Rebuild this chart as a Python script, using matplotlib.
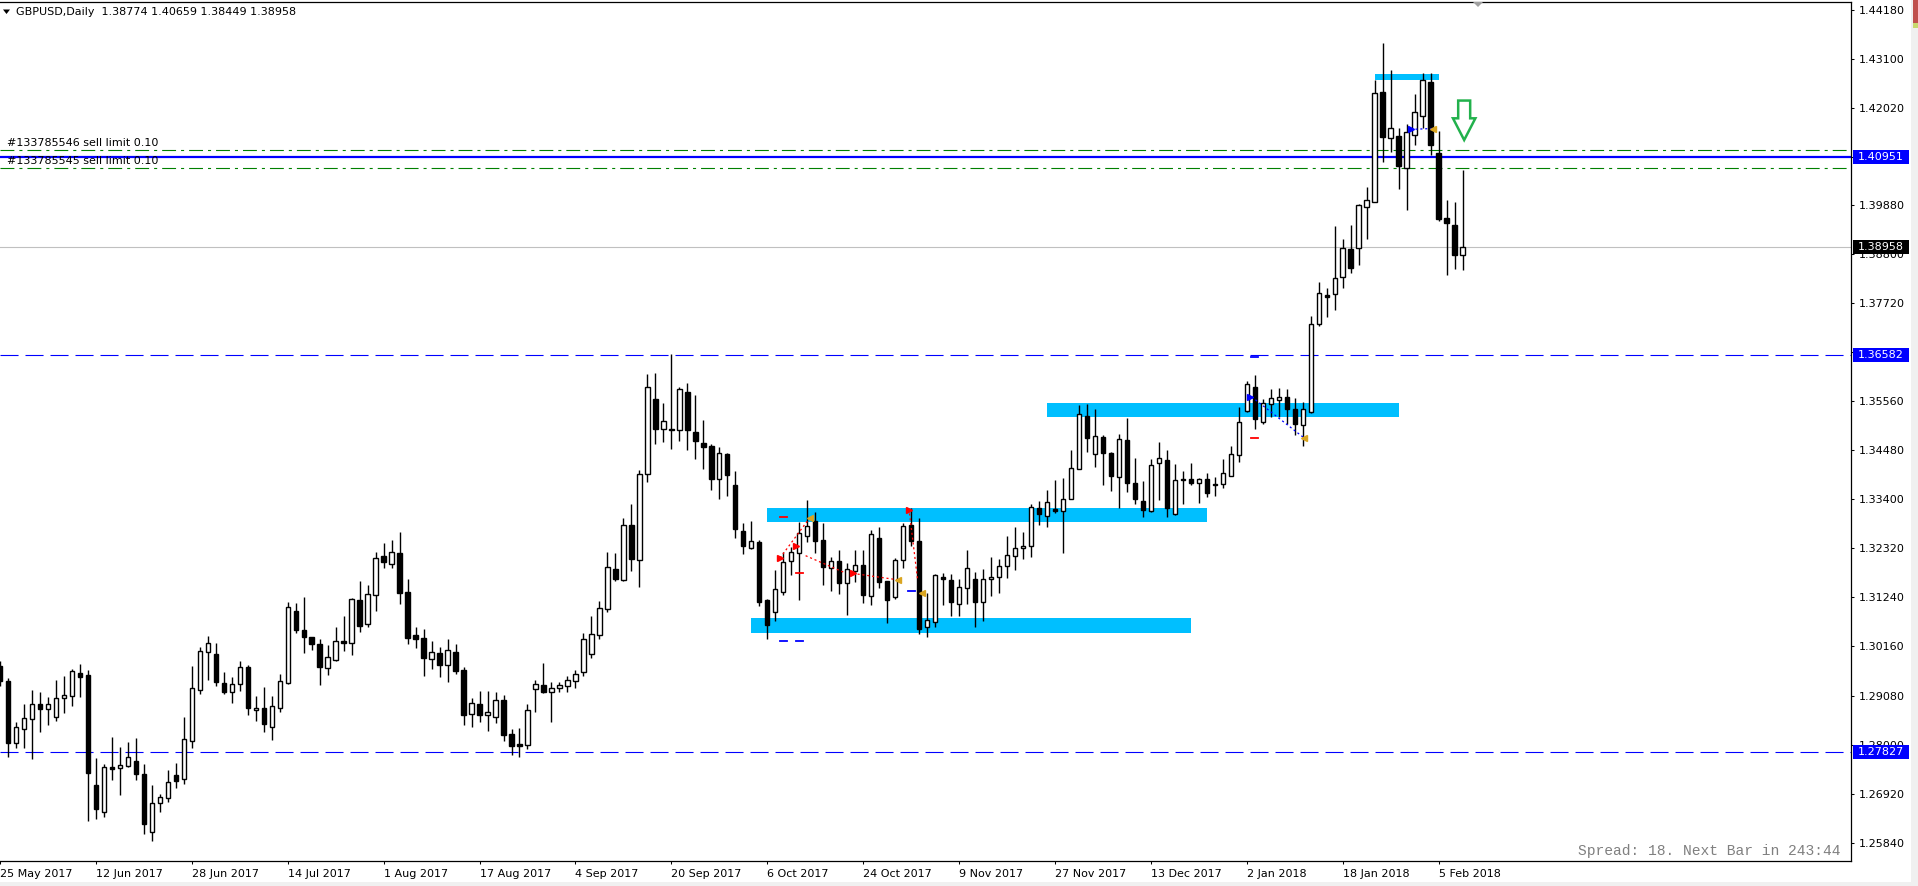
import matplotlib
matplotlib.use("Agg")
import matplotlib.pyplot as plt
from matplotlib.patches import Rectangle, Polygon
import matplotlib.transforms as mtransforms
import numpy as np
import pandas as pd

plt.rcParams['lines.scale_dashes'] = False
plt.rcParams['font.family'] = ['DejaVu Sans']

W, H, DPI = 1918, 886, 100

# ---------------- data ----------------
symbol = "GBPUSD,Daily"
last_ohlc = [1.38774, 1.40659, 1.38449, 1.38958]

opens = [1.2973, 1.29400, 1.28027, 1.28336, 1.28556, 1.28886, 1.28776, 1.28600, 1.29019, 1.29063,
         1.29577, 1.29533, 1.27110, 1.26522, 1.27506, 1.27477, 1.27536, 1.27638, 1.27345, 1.26067,
         1.26706, 1.26816, 1.27330, 1.27235, 1.28072, 1.29210, 1.30032, 1.29995, 1.29356, 1.29151,
         1.29327, 1.29709, 1.28754, 1.28798, 1.28395, 1.28813, 1.29349, 1.30942, 1.30516, 1.30362,
         1.30215, 1.29679, 1.29863, 1.30274, 1.30230, 1.31177, 1.30648, 1.31287, 1.32153, 1.31970,
         1.32219, 1.31360, 1.30414, 1.30348, 1.29892, 1.30017, 1.29745, 1.30039, 1.29643, 1.28681,
         1.28886, 1.28644, 1.28615, 1.28982, 1.28233, 1.28013, 1.27983, 1.29232, 1.29305, 1.29158,
         1.29239, 1.2930, 1.2940, 1.2960, 1.3000, 1.30406, 1.30979, 1.31860, 1.31617, 1.32829,
         1.32058, 1.33952, 1.35604, 1.34943, 1.34943, 1.34921, 1.35758, 1.34877, 1.34635, 1.34569,
         1.33842, 1.34393, 1.33710, 1.32697, 1.32337, 1.32462, 1.31184, 1.30912, 1.31368, 1.32036,
         1.32212, 1.32586, 1.32917, 1.32498, 1.31882, 1.32043, 1.31551, 1.31830, 1.31955, 1.31265,
         1.32542, 1.31595, 1.31258, 1.32058, 1.32829, 1.32476, 1.30582, 1.30707, 1.31691, 1.31625,
         1.31089, 1.31442, 1.31640, 1.31133, 1.31640, 1.31684, 1.31926, 1.32146, 1.32323, 1.32367,
         1.33204, 1.33028, 1.33182, 1.33138, 1.33402, 1.34063, 1.35230, 1.34393, 1.34768, 1.34415,
         1.33887, 1.34702, 1.33754, 1.33358, 1.33152, 1.34195, 1.34268, 1.33086, 1.33850, 1.33842,
         1.33754, 1.33842, 1.33740, 1.33747, 1.33909, 1.34371, 1.35340, 1.35869, 1.35098, 1.35494,
         1.35583, 1.35649, 1.35384, 1.35032, 1.35318, 1.37271, 1.37902, 1.37917, 1.38291, 1.38908,
         1.38930, 1.39840, 1.39958, 1.42373, 1.41353, 1.41404, 1.40707, 1.41434, 1.41852, 1.42594,
         1.41022, 1.39591, 1.39437, 1.38774]
highs = [1.2985, 1.29459, 1.28497, 1.28894, 1.29202, 1.29158, 1.29048, 1.29422, 1.29511, 1.29665,
         1.29775, 1.29643, 1.27704, 1.27572, 1.28167, 1.27947, 1.28057, 1.28145, 1.27572, 1.27110,
         1.26911, 1.27440, 1.27594, 1.28607, 1.29731, 1.30149, 1.30392, 1.30237, 1.29599, 1.29488,
         1.29841, 1.29753, 1.29070, 1.29268, 1.29070, 1.29555, 1.31140, 1.31118, 1.31250, 1.30370,
         1.30326, 1.30193, 1.30590, 1.30832, 1.31221, 1.31603, 1.31515, 1.32242, 1.32440, 1.32506,
         1.32682, 1.31647, 1.30590, 1.30546, 1.30281, 1.30149, 1.30326, 1.30215, 1.29709, 1.29026,
         1.29180, 1.29180, 1.29158, 1.29092, 1.28350, 1.28373, 1.28894, 1.29422, 1.29797, 1.29378,
         1.29378, 1.2950, 1.2965, 1.3045, 1.30832, 1.31162, 1.32241, 1.32219, 1.32990, 1.33299,
         1.34048, 1.36162, 1.36184, 1.35523, 1.36595, 1.35876, 1.35964, 1.35700, 1.35149, 1.34613,
         1.34547, 1.34422, 1.34026, 1.32880, 1.32924, 1.32506, 1.31213, 1.31845, 1.32234, 1.32352,
         1.32902, 1.33387, 1.33115, 1.32880, 1.32131, 1.32278, 1.31999, 1.32278, 1.32278, 1.32719,
         1.32785, 1.31610, 1.32102, 1.32880, 1.33211, 1.32990, 1.31331, 1.31749, 1.31771, 1.31749,
         1.31647, 1.32279, 1.31794, 1.31860, 1.32124, 1.32080, 1.32587, 1.32785, 1.32675, 1.33292,
         1.33358, 1.33600, 1.33820, 1.33865, 1.34481, 1.35472, 1.35494, 1.35384, 1.34812, 1.34437,
         1.34834, 1.35186, 1.34305, 1.33798, 1.34283, 1.34657, 1.34481, 1.34173, 1.34019, 1.34195,
         1.33865, 1.33975, 1.33887, 1.34283, 1.34569, 1.35428, 1.36008, 1.36141, 1.35605, 1.35825,
         1.35847, 1.35825, 1.35627, 1.35539, 1.37439, 1.38181, 1.38049, 1.39422, 1.39128, 1.39437,
         1.39906, 1.40274, 1.42638, 1.43445, 1.42851, 1.41573, 1.41669, 1.42322, 1.42785, 1.42785,
         1.41514, 1.39987, 1.39943, 1.40659]
lows = [1.2930, 1.27734, 1.27932, 1.27932, 1.27675, 1.28284, 1.28439, 1.28527, 1.28703, 1.28857,
        1.29055, 1.26324, 1.26368, 1.26412, 1.27227, 1.26897, 1.27499, 1.27227, 1.26023, 1.25884,
        1.26522, 1.26743, 1.27051, 1.27139, 1.27932, 1.29121, 1.29422, 1.29298, 1.29121, 1.28923,
        1.29187, 1.28659, 1.28527, 1.28284, 1.28108, 1.28725, 1.29340, 1.30450, 1.30024, 1.30091,
        1.29320, 1.29525, 1.29834, 1.30069, 1.29980, 1.30487, 1.30597, 1.30949, 1.31896, 1.31896,
        1.31103, 1.30223, 1.30120, 1.29518, 1.29672, 1.29496, 1.29378, 1.29562, 1.28431, 1.28387,
        1.28505, 1.28306, 1.28475, 1.28086, 1.27778, 1.27734, 1.27910, 1.28718, 1.29136, 1.28505,
        1.29150, 1.2915, 1.2925, 1.2950, 1.2990, 1.30320, 1.30927, 1.31595, 1.31595, 1.31830,
        1.31478, 1.33791, 1.34628, 1.34672, 1.34517, 1.34694, 1.34495, 1.34297, 1.34077, 1.33614,
        1.33416, 1.33482, 1.32557, 1.32205, 1.32315, 1.31059, 1.30318, 1.30729, 1.31302, 1.31742,
        1.31191, 1.32454, 1.32212, 1.31522, 1.31390, 1.31324, 1.30861, 1.31573, 1.31125, 1.31081,
        1.31456, 1.30685, 1.31213, 1.31896, 1.32381, 1.30428, 1.30376, 1.30582, 1.31081, 1.30839,
        1.30840, 1.31104, 1.30597, 1.30729, 1.31280, 1.31346, 1.31677, 1.31853, 1.32080, 1.32124,
        1.32829, 1.32785, 1.33094, 1.32213, 1.33400, 1.34060, 1.34437, 1.34122, 1.33710, 1.33578,
        1.33204, 1.33556, 1.33292, 1.33005, 1.33116, 1.33380, 1.33005, 1.33064, 1.33307, 1.33710,
        1.33314, 1.33461, 1.33468, 1.33659, 1.33905, 1.34232, 1.35318, 1.34944, 1.35054, 1.35208,
        1.35208, 1.35054, 1.34812, 1.34569, 1.35310, 1.37227, 1.37410, 1.37564, 1.38049, 1.38379,
        1.38570, 1.39143, 1.39950, 1.40824, 1.41059, 1.40244, 1.39774, 1.41213, 1.41573, 1.40978,
        1.39539, 1.38343, 1.38475, 1.38449]
closes = [1.2939, 1.28042, 1.28380, 1.28578, 1.28886, 1.28791, 1.28886, 1.29019, 1.29085, 1.29613,
          1.29496, 1.27381, 1.26588, 1.27506, 1.27470, 1.27543, 1.27726, 1.27359, 1.26258, 1.26713,
          1.26838, 1.27168, 1.27205, 1.28116, 1.29239, 1.30054, 1.30230, 1.29386, 1.29165, 1.29327,
          1.29701, 1.28813, 1.28806, 1.28461, 1.28842, 1.29393, 1.31023, 1.30516, 1.30377, 1.30215,
          1.29716, 1.29922, 1.30274, 1.30245, 1.31199, 1.30619, 1.31316, 1.32102, 1.32029, 1.32234,
          1.31346, 1.30340, 1.30318, 1.29914, 1.30039, 1.29753, 1.30083, 1.29628, 1.28659, 1.28916,
          1.28659, 1.28710, 1.28982, 1.28218, 1.27976, 1.27976, 1.28762, 1.29327, 1.29158, 1.29246,
          1.29312, 1.2942, 1.2955, 1.3032, 1.30428, 1.31001, 1.31904, 1.31639, 1.32829, 1.32080,
          1.33952, 1.35868, 1.34958, 1.35127, 1.34921, 1.35824, 1.34936, 1.34694, 1.34562, 1.33857,
          1.34415, 1.33945, 1.32755, 1.32381, 1.32476, 1.31147, 1.30641, 1.31419, 1.32014, 1.32234,
          1.32653, 1.32807, 1.32491, 1.31918, 1.32036, 1.31566, 1.31860, 1.31948, 1.31302, 1.32631,
          1.31588, 1.31191, 1.32073, 1.32821, 1.32491, 1.30553, 1.30736, 1.31727, 1.31654, 1.31147,
          1.31464, 1.31882, 1.31148, 1.31640, 1.31684, 1.31926, 1.32169, 1.32323, 1.32367, 1.33226,
          1.33072, 1.33336, 1.33145, 1.33402, 1.34085, 1.35274, 1.34746, 1.34790, 1.34415, 1.33923,
          1.34724, 1.33754, 1.33402, 1.33160, 1.34151, 1.34305, 1.33204, 1.33820, 1.33820, 1.33754,
          1.33842, 1.33534, 1.33725, 1.33989, 1.34408, 1.35098, 1.35935, 1.35164, 1.35517, 1.35627,
          1.35649, 1.35384, 1.35054, 1.35384, 1.37256, 1.37939, 1.37865, 1.38269, 1.38930, 1.38489,
          1.39877, 1.39987, 1.42344, 1.41390, 1.41573, 1.40751, 1.41485, 1.41925, 1.42630, 1.41213,
          1.39576, 1.39495, 1.38790, 1.38958]

first_day, last_day = '2017-05-25', '2018-02-08'
market_holidays = ['2017-12-25', '2018-01-01']
tick_dates = ['2017-05-25', '2017-06-12', '2017-06-28', '2017-07-14', '2017-08-01', '2017-08-17',
              '2017-09-04', '2017-09-20', '2017-10-06', '2017-10-24', '2017-11-09', '2017-11-27',
              '2017-12-13', '2018-01-02', '2018-01-18', '2018-02-05']
tick_labels = ['25 May 2017', '12 Jun 2017', '28 Jun 2017', '14 Jul 2017', '1 Aug 2017', '17 Aug 2017',
               '4 Sep 2017', '20 Sep 2017', '6 Oct 2017', '24 Oct 2017', '9 Nov 2017', '27 Nov 2017',
               '13 Dec 2017', '2 Jan 2018', '18 Jan 2018', '5 Feb 2018']
price_ticks = [1.25840, 1.26920, 1.28000, 1.29080, 1.30160, 1.31240, 1.32320, 1.33400, 1.34480,
               1.35560, 1.36640, 1.37720, 1.38800, 1.39880, 1.40940, 1.42020, 1.43100, 1.44180]

level_lines = [1.36582, 1.27827]
entry_line = 1.40951
sell_limits = [1.41096, 1.40699]
sell_limit_labels = ["#133785546 sell limit 0.10", "#133785545 sell limit 0.10"]
bid_price = 1.38958

zone_start = [93, 95, 130, 171]
zone_end = [148, 150, 174, 179]
zone_top = [1.30788, 1.33211, 1.35523, 1.42770]
zone_bottom = [1.30464, 1.32909, 1.35222, 1.42638]

red_dash_bars = [97, 99, 156]
red_dash_prices = [1.33006, 1.31772, 1.34746]
blue_dash_bars = [113, 97, 99, 156]
blue_dash_prices = [1.31375, 1.30281, 1.30281, 1.36530]
red_arrow_bars = [96.6, 98.6, 105.7, 112.7]
red_arrow_prices = [1.32109, 1.32374, 1.31772, 1.33167]
gold_tri_bars = [100.3, 111.3, 114.3, 162.2, 178.3]
gold_tri_prices = [1.32991, 1.31625, 1.31331, 1.34746, 1.41566]
blue_arrow_bars = [155.45, 175.5]
blue_arrow_prices = [1.35662, 1.41552]
red_path_bars = [[96.6, 100.3], [99.8, 104.5], [105.7, 111.3], [112.8, 113.8]]
red_path_prices = [[1.3211, 1.3299], [1.3216, 1.3180], [1.3177, 1.3163], [1.3309, 1.3165]]
blue_path_bars = [[155.6, 162.2], [175.5, 178.3]]
blue_path_prices = [[1.3566, 1.3475], [1.4155, 1.4157]]

arrow_bar = 182.2
arrow_top, arrow_neck, arrow_tip = 1.42185, 1.41794, 1.41316

spread_text = "Spread: 18. Next Bar in 243:44"

# ---------------- figure ----------------
def fx(px):
    return px / W

def fy(py):
    return 1 - py / H

fig = plt.figure(figsize=(W / DPI, H / DPI), dpi=DPI)
fig.patch.set_facecolor('white')
ax = fig.add_axes([0, 25 / H, 1851 / W, 859 / H])
ax.set_facecolor('white')
ax.set_xlim(-0.8, 230.6)
ax.set_ylim(1.25435, 1.44356)

days = pd.bdate_range(first_day, last_day)
days = days[~days.isin(pd.to_datetime(market_holidays))]
pos0 = -1
x = np.arange(len(opens)) + pos0
o = np.array(opens); h = np.array(highs); l = np.array(lows); c = np.array(closes)
up = c >= o
blo = np.minimum(o, c)
bhi = np.maximum(o, c)

# zones
for s, e, t, b in zip(zone_start, zone_end, zone_top, zone_bottom):
    ax.add_patch(Rectangle((s, b), e - s, t - b, facecolor='#00BFFF', edgecolor='none', zorder=1))

# horizontal lines
for lv in level_lines:
    ax.axhline(lv, color='#0000FF', lw=0.8, dashes=(13, 5), zorder=1.5)
ax.axhline(bid_price, color='#C0C0C0', lw=0.8, zorder=1.5)
for sl in sell_limits:
    ax.axhline(sl, color='#008000', lw=0.8, dashes=(10, 3.6, 2.2, 3.6), zorder=1.5)
ax.axhline(entry_line, color='#0000FF', lw=1.6, zorder=1.6)

# candles
ax.vlines(x, l, h, colors='black', linewidth=1.0, zorder=2)
ax.bar(x[up], (bhi - blo)[up], bottom=blo[up], width=0.55, facecolor='white',
       edgecolor='black', linewidth=1.0, zorder=3)
ax.bar(x[~up], (bhi - blo)[~up], bottom=blo[~up], width=0.55, facecolor='black',
       edgecolor='black', linewidth=1.0, zorder=3)

# trade markers
for bx, pb in zip(red_path_bars, red_path_prices):
    ax.plot(bx, pb, color='red', lw=0.9, dashes=(1.5, 2), zorder=4)
for bx, pb in zip(blue_path_bars, blue_path_prices):
    ax.plot(bx, pb, color='#0000FF', lw=0.9, dashes=(1.5, 2), zorder=4)
for bx, pb in zip(red_dash_bars, red_dash_prices):
    ax.plot([bx - 0.45, bx + 0.45], [pb, pb], color='red', lw=1.3, zorder=4)
for bx, pb in zip(blue_dash_bars, blue_dash_prices):
    ax.plot([bx - 0.45, bx + 0.45], [pb, pb], color='#0000FF', lw=1.3, zorder=4)
ax.plot(red_arrow_bars, red_arrow_prices, linestyle='none', marker='>', ms=5, color='red', zorder=5)
ax.plot(gold_tri_bars, gold_tri_prices, linestyle='none', marker='<', ms=5, color='#DAA520', zorder=5)
ax.plot(blue_arrow_bars, blue_arrow_prices, linestyle='none', marker='>', ms=5, color='#0000FF', zorder=5)

# green arrow (outline)
sw, hw = 0.75, 1.4
arrow_pts = [(arrow_bar - sw, arrow_top), (arrow_bar + sw, arrow_top), (arrow_bar + sw, arrow_neck),
             (arrow_bar + hw, arrow_neck), (arrow_bar, arrow_tip), (arrow_bar - hw, arrow_neck),
             (arrow_bar - sw, arrow_neck)]
ax.add_patch(Polygon(arrow_pts, closed=True, fill=False, edgecolor='#22B14C', lw=1.8, zorder=6))

# axes styling
ax.spines['left'].set_visible(False)
for side in ['top', 'right', 'bottom']:
    ax.spines[side].set_color('black')
    ax.spines[side].set_linewidth(0.9)

tick_pos = [days.get_loc(pd.Timestamp(d)) + pos0 for d in tick_dates]
ax.set_xticks(tick_pos)
ax.set_xticklabels(tick_labels, ha='left')
ax.tick_params(axis='x', direction='out', length=2.5, width=0.75, pad=3, labelsize=8, colors='black')

ax.yaxis.tick_right()
ax.set_yticks(price_ticks)
ax.set_yticklabels([f"{v:.5f}" for v in price_ticks])
ax.tick_params(axis='y', direction='out', length=2.5, width=0.75, pad=3, labelsize=8, colors='black')

# price boxes on the scale
blend = mtransforms.blended_transform_factory(ax.transAxes, ax.transData)
px_per_price = 4540.0
box_w = 56 / 1851
box_x0 = 1853 / 1851
for price, col in [(entry_line, '#0000FF'), (bid_price, '#000000'),
                   (level_lines[0], '#0000FF'), (level_lines[1], '#0000FF')]:
    ax.add_patch(Rectangle((box_x0, price - 7 / px_per_price), box_w, 14 / px_per_price,
                           transform=blend, facecolor=col, edgecolor='none', clip_on=False, zorder=10))
    ax.text(1858 / 1851, price, f"{price:.5f}", transform=blend, color='white', fontsize=8,
            va='center', ha='left', zorder=11, clip_on=False)

# order labels
for sl, lab in zip(sell_limits, sell_limit_labels):
    ax.annotate(lab, xy=(7 / 1851, sl), xycoords=blend, xytext=(0, 1.5), textcoords='offset points',
                fontsize=8, color='#000000', va='bottom', ha='left', zorder=7)

# header
fig.patches.append(Polygon([[fx(3), fy(9.5)], [fx(10), fy(9.5)], [fx(6.5), fy(14)]], closed=True,
                           transform=fig.transFigure, facecolor='black', edgecolor='none'))
fig.text(fx(16.5), fy(12), f"{symbol}  " + " ".join(f"{v:.5f}" for v in last_ohlc),
         fontsize=8, va='center', ha='left', color='black')

# spread text
fig.text(fx(1841), fy(851), spread_text, fontsize=10.5, family=['Liberation Mono', 'DejaVu Sans Mono'],
         color='#808080', ha='right', va='center')

# chart shift marker
fig.patches.append(Polygon([[fx(1473), fy(2)], [fx(1483), fy(2)], [fx(1478), fy(7)]], closed=True,
                           transform=fig.transFigure, facecolor='#A0A0A0', edgecolor='none'))

# window edges
fig.patches.append(Rectangle((fx(1911), 0), fx(7), 1, transform=fig.transFigure,
                             facecolor='#F0F0F0', edgecolor='none'))
fig.patches.append(Rectangle((fx(1913), fy(23)), fx(5), 23 / H, transform=fig.transFigure,
                             facecolor='#C0504D', edgecolor='none'))
fig.patches.append(Rectangle((fx(1913), fy(28)), fx(5), 5 / H, transform=fig.transFigure,
                             facecolor='#C8D86E', edgecolor='none'))
fig.patches.append(Rectangle((0, 0), 1, 4 / H, transform=fig.transFigure,
                             facecolor='#F0F0F0', edgecolor='none'))

fig.savefig('out.png', dpi=DPI, facecolor='white')
